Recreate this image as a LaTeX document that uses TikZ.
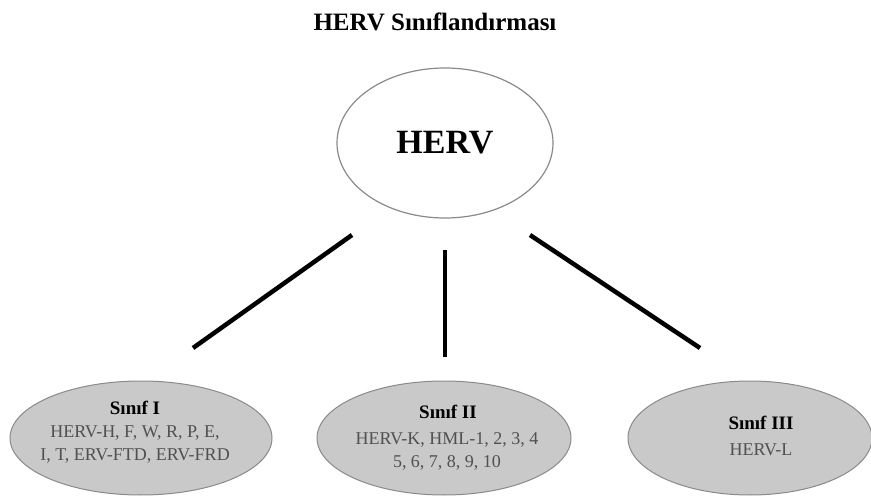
\documentclass[tikz,border=0pt]{standalone}
\usepackage{fontspec}
\setmainfont{Liberation Serif}
\usetikzlibrary{shapes.geometric}
\definecolor{ellfill}{HTML}{C9C9C9}
\definecolor{ellline}{HTML}{8A8A8A}
\definecolor{txtgray}{HTML}{505050}
\begin{document}
\begin{tikzpicture}[x=1pt,y=-1pt,
  topell/.style={ellipse,draw=ellline,line width=1.2pt,fill=white,minimum width=216pt,minimum height=150pt,inner sep=0pt},
  classell/.style={ellipse,draw=ellline,line width=1pt,fill=ellfill,minimum height=114pt,inner sep=0pt},
  connector/.style={line width=4.5pt,black},
  head/.style={font=\fontsize{19}{22}\selectfont\bfseries,text=black},
  body/.style={font=\fontsize{18}{23}\selectfont,text=txtgray,align=center}]
\useasboundingbox (0,0) rectangle (871,497);
\node[font=\fontsize{25}{28}\selectfont\bfseries] (title) at (435,22) {HERV Sınıflandırması};
\node[topell] (herv) at (445,143) {};
\node[font=\fontsize{34}{38}\selectfont\bfseries] (hervt) at (445,143) {HERV};
\node[classell,minimum width=262pt] (c1) at (141,438) {};
\node[classell,minimum width=254pt] (c2) at (444,438) {};
\node[classell,minimum width=244pt] (c3) at (750,438) {};
\node[head] (h1) at (135,408) {Sınıf I};
\node[body] (b1) at (135,444) {HERV-H, F, W, R, P, E,\\I, T, ERV-FTD, ERV-FRD};
\node[head] (h2) at (448,412) {Sınıf II};
\node[body] (b2) at (447,451) {HERV-K, HML-1, 2, 3, 4\\5, 6, 7, 8, 9, 10};
\node[head] (h3) at (761,423) {Sınıf III};
\node[body] (b3) at (761,450) {HERV-L};
\coordinate (l1a) at (352,235); \coordinate (l1b) at (193,348);
\coordinate (l2a) at (445,250); \coordinate (l2b) at (445,357);
\coordinate (l3a) at (530,235); \coordinate (l3b) at (700,348);
\draw[connector] (l1a) -- (l1b);
\draw[connector] (l2a) -- (l2b);
\draw[connector] (l3a) -- (l3b);
\end{tikzpicture}
\end{document}
